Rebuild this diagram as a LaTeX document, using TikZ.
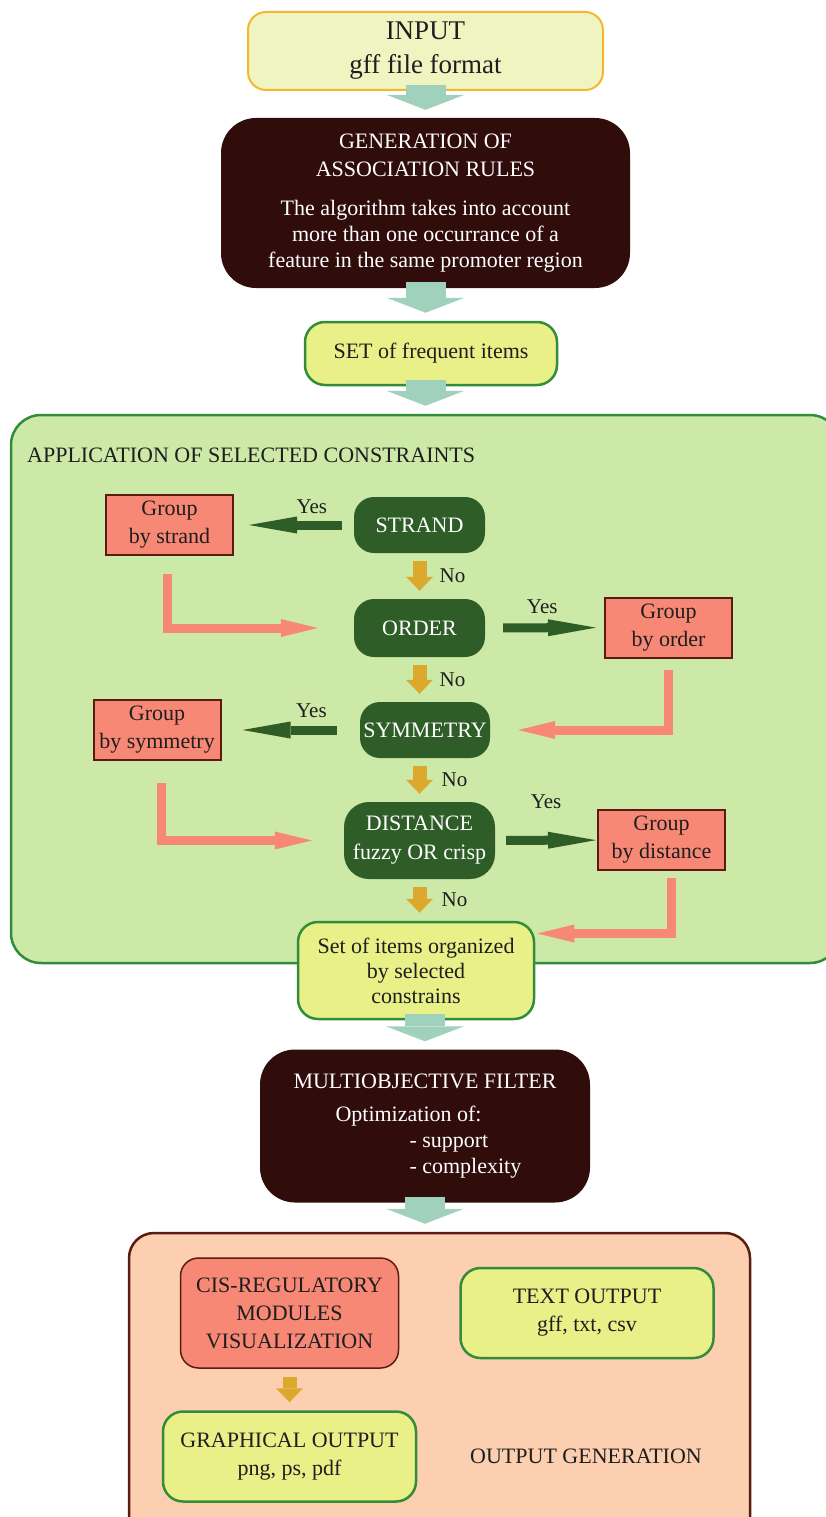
\documentclass[tikz,border=0pt]{standalone}
\usepackage{fontspec}
\setmainfont{Liberation Serif}
\usetikzlibrary{arrows.meta}
\definecolor{cream}{RGB}{239,244,193}
\definecolor{marigold}{RGB}{245,183,46}
\definecolor{mint}{RGB}{159,209,188}
\definecolor{maroon}{RGB}{48,13,11}
\definecolor{lime}{RGB}{234,240,136}
\definecolor{forest}{RGB}{50,140,60}
\definecolor{meadow}{RGB}{204,233,168}
\definecolor{pine}{RGB}{47,93,40}
\definecolor{salmon}{RGB}{248,136,118}
\definecolor{rust}{RGB}{90,28,18}
\definecolor{gold}{RGB}{221,169,45}
\definecolor{peach}{RGB}{251,207,175}
\definecolor{ink}{RGB}{30,30,30}
\tikzset{
  txt/.style={font=\fontsize{22}{28}\selectfont,text=ink,align=center,inner sep=2pt},
  lbl/.style={font=\fontsize{21}{24}\selectfont,text=ink,inner sep=1pt},
  panel/.style={draw=#1,line width=2.5pt,rounded corners=30pt},
  stage/.style={fill=maroon,text=white,rounded corners=35pt,
    font=\fontsize{22}{26}\selectfont,align=center},
  result/.style={txt,draw=forest,line width=2.5pt,fill=lime,rounded corners=20pt},
  decision/.style={fill=pine,text=white,rounded corners=20pt,inner sep=2pt,
    font=\fontsize{22}{26}\selectfont,align=center},
  grpbox/.style={txt,draw=rust,line width=2pt,fill=salmon,
    minimum width=127pt,minimum height=60pt},
  bigarrow/.style={-{Triangle[width=78pt,length=15pt,line width=0pt]},line width=40pt,
    draw=mint,shorten <=-6pt,shorten >=8pt},
  noarrow/.style={-{Triangle[width=27pt,length=14pt,line width=0pt]},line width=14pt,
    draw=gold,shorten <=8pt,shorten >=8pt},
  yesarrow/.style={-{Triangle[width=17pt,length=48pt,line width=0pt]},line width=9pt,draw=pine},
  backarrow/.style={-{Triangle[width=18pt,length=37pt,line width=0pt]},line width=9pt,
    draw=salmon,line join=miter},
}
\begin{document}
\begin{tikzpicture}[x=1pt,y=-1pt]
\useasboundingbox (0,0) rectangle (825,1517);
% containers
\node[panel=forest,fill=meadow,minimum width=829pt,minimum height=548pt] (app) at (425.5,689) {};
\node[panel=rust,fill=peach,rounded corners=25pt,minimum width=621pt,minimum height=312pt] (out) at (439.5,1389) {};
\node[txt,anchor=west] (apptitle) at (25,455) {APPLICATION OF SELECTED CONSTRAINTS};
\node[txt] (outtitle) at (586,1456.5) {OUTPUT GENERATION};

% main flow
\node[txt,draw=marigold,line width=2pt,fill=cream,rounded corners=18pt,minimum width=355pt,
  minimum height=78pt,font=\fontsize{27}{34}\selectfont] (inp) at (425.5,51) {INPUT\\gff file format};
\node[stage,minimum width=409pt,minimum height=170pt] (gen) at (425.5,203)
  {GENERATION OF\\[2pt]ASSOCIATION RULES\\[13pt]The algorithm takes into account\\
   more than one occurrance of a\\feature in the same promoter region};
\node[result,minimum width=252pt,minimum height=63pt] (set) at (431,353.5) {SET of frequent items};

% constraints
\node[decision,minimum width=131pt,minimum height=56pt] (str) at (419.5,525) {STRAND};
\node[decision,minimum width=131pt,minimum height=58pt] (ord) at (419.5,628) {ORDER};
\node[decision,minimum width=130pt,minimum height=56pt] (sym) at (425,730) {SYMMETRY};
\node[decision,minimum width=151pt,minimum height=77pt,rounded corners=25pt] (dist) at (419.5,840.5)
  {DISTANCE\\[3pt]fuzzy OR crisp};
\node[grpbox] (gs) at (169.5,525) {Group\\by strand};
\node[grpbox] (go) at (668.5,627.5) {Group\\by order};
\node[grpbox] (gsym) at (157,730) {Group\\by symmetry};
\node[grpbox] (gd) at (661.5,840) {Group\\by distance};
\node[result,minimum width=236pt,minimum height=97pt,font=\fontsize{22}{25}\selectfont] (items) at (416,970.5)
  {Set of items organized\\by selected\\constrains};

% filter and output
\node[stage,minimum width=330pt,minimum height=153pt] (multi) at (425,1126)
  {\begin{tabular}{@{}l@{}}
   MULTIOBJECTIVE FILTER\\[7pt]
   \hspace*{42pt}Optimization of:\\
   \hspace*{116pt}- support\\
   \hspace*{116pt}- complexity
   \end{tabular}};
\node[grpbox,draw=rust,line width=1.5pt,rounded corners=18pt,minimum width=218pt,minimum height=110pt] (cis) at (289.5,1313)
  {CIS-REGULATORY\\MODULES\\VISUALIZATION};
\node[result,minimum width=253pt,minimum height=90pt] (txtout) at (587,1313) {TEXT OUTPUT\\gff, txt, csv};
\node[result,minimum width=253pt,minimum height=90pt] (gra) at (289.5,1456.5) {GRAPHICAL OUTPUT\\png, ps, pdf};

% big arrows
\draw[bigarrow] (inp) -- (gen);
\draw[bigarrow] (gen) -- (gen |- set.north);
\draw[bigarrow] (set.south -| app.north) -- (app);
\draw[bigarrow] (items.south -| multi.north) -- (multi);
\draw[bigarrow] (multi) -- (multi |- out.north);

% yes / no
\draw[yesarrow,shorten <=12pt,shorten >=15pt] (str) -- (gs) node[lbl,pos=.35,yshift=18pt] {Yes};
\draw[yesarrow,shorten <=18pt,shorten >=8pt] (ord) -- (go) node[lbl,pos=.48,yshift=21pt] {Yes};
\draw[yesarrow,shorten <=23pt,shorten >=21pt] (sym) -- (gsym) node[lbl,pos=.35,yshift=19pt] {Yes};
\draw[yesarrow,shorten <=11pt,shorten >=1pt] (dist) -- (gd) node[lbl,pos=.5,yshift=39pt] {Yes};
\draw[noarrow] (str) -- (ord) node[lbl,midway,xshift=33pt] {No};
\draw[noarrow] (ord) -- (ord |- sym.north) node[lbl,midway,xshift=33pt] {No};
\draw[noarrow] (dist |- sym.south) -- (dist) node[lbl,midway,xshift=35pt] {No};
\draw[noarrow] (dist) -- (dist |- items.north) node[lbl,midway,xshift=35pt] {No};
\draw[noarrow] (cis) -- (gra);

% back to the chain
\draw[backarrow,shorten <=18pt,shorten >=36pt] ([xshift=-2pt]gs.south) |- (ord.west);
\draw[backarrow,shorten <=11pt,shorten >=28pt] (go.south) |- (sym.east);
\draw[backarrow,shorten <=22pt,shorten >=32pt] ([xshift=4pt]gsym.south) |- (dist.west);
\draw[backarrow,shorten <=7pt,shorten >=2pt] ([xshift=10pt]gd.south) |- ([yshift=37pt]items.east);
\end{tikzpicture}
\end{document}
